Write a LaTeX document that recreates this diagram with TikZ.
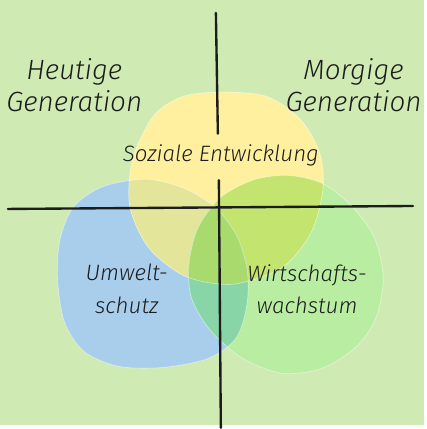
\documentclass[tikz,border=0pt]{standalone}
\usepackage{fontspec}
\setmainfont{Fira Sans}[ItalicFont={Fira Sans Light Italic}]

\definecolor{bgcol}{HTML}{D0EAB4}
\definecolor{inkcol}{HTML}{1C1C1C}
\definecolor{soccol}{HTML}{FFF0A0}
\definecolor{envcol}{HTML}{A8CEEC}
\definecolor{ecocol}{HTML}{B9EEA2}
\definecolor{soc-env}{HTML}{E3E59B}
\definecolor{soc-eco}{HTML}{C3E46E}
\definecolor{env-eco}{HTML}{88D6A8}
\definecolor{allthree}{HTML}{A8DA6E}

% the three spheres (pixel units, y downwards)
\newcommand{\socblob}{plot[smooth cycle] coordinates {(220,93) (268,97) (303,120) (323,155) (326,192) (314,235) (285,270) (235,287) (187,279) (150,250) (131,208) (134,160) (155,117) (183,98)}}
\newcommand{\envblob}{plot[smooth cycle] coordinates {(150,181) (190,192) (220,212) (240,240) (250,275) (249,310) (238,342) (210,362) (165,371) (120,370) (85,355) (65,325) (58,280) (61,240) (75,208) (105,188)}}
\newcommand{\ecoblob}{plot[smooth cycle] coordinates {(290,177) (325,185) (355,208) (378,240) (387,280) (380,320) (360,350) (325,372) (285,377) (245,362) (212,333) (193,300) (191,265) (200,230) (222,200) (255,182)}}

\begin{document}
\begin{tikzpicture}[x=0.025cm,y=-0.025cm,
    bigtext/.style={font={\itshape\fontsize{20}{23.5}\selectfont},align=center,text=inkcol},
    smalltext/.style={font={\itshape\fontsize{16}{23.5}\selectfont},align=center,text=inkcol},
    axis/.style={line width=1.7pt,draw=inkcol,line cap=round},
    rim/.style={draw=white,draw opacity=0.45,line width=0.5pt}]
\fill[bgcol] (0,0) rectangle (428,429);

%\draw[red] \socblob;
\fill[envcol] \envblob;
\fill[ecocol] \ecoblob;
\fill[soccol] \socblob;
\begin{scope}
  \clip \socblob;
  \fill[soc-env] \envblob;
  \fill[soc-eco] \ecoblob;
\end{scope}
\begin{scope}
  \clip \envblob;
  \fill[env-eco] \ecoblob;
  \clip \socblob;
  \fill[allthree] \ecoblob;
\end{scope}
\path[rim] \envblob;
\path[rim] \ecoblob;
\path[rim] \socblob;

% the two axes, the upper one broken for the label
\coordinate (top) at (218,13);
\coordinate (gaptop) at (220,135);
\coordinate (gapbot) at (221,182);
\coordinate (bottom) at (223,432);
\coordinate (left) at (8,211);
\coordinate (right) at (417,208);
\draw[axis] (top)--(gaptop) (gapbot)--(bottom);
\draw[axis] (left)--(right);

\node[bigtext] (today) at (75,86) {Heutige\\Generation};
\node[bigtext] (tomorrow) at (357,86) {Morgige\\Generation};
\node[smalltext,anchor=base] (social) at (223,163) {Soziale Entwicklung};
\node[smalltext] (environment) at (128,292) {Umwelt-\\schutz};
\node[smalltext] (economy) at (310,292) {Wirtschafts-\\wachstum};
\end{tikzpicture}
\end{document}
